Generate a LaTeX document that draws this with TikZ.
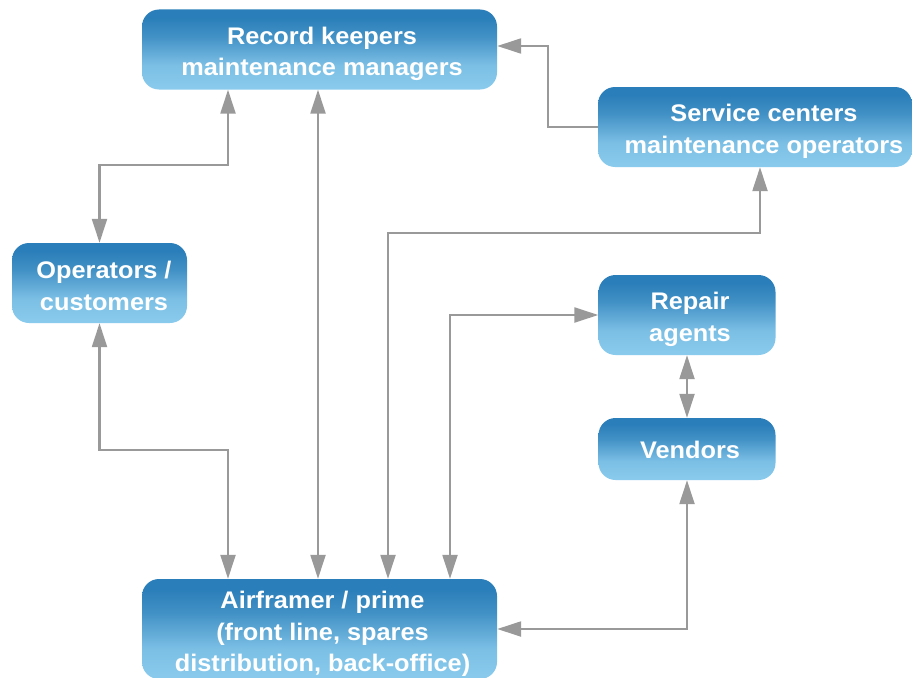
\documentclass[tikz,border=0pt]{standalone}
\usepackage{fontspec}
\setmainfont[FakeStretch=1.055]{Liberation Sans}
\usetikzlibrary{arrows.meta}
\definecolor{bdark}{RGB}{42,126,185}
\definecolor{blight}{RGB}{138,203,237}
\definecolor{lgray}{RGB}{153,153,153}
\pgfdeclareverticalshading{boxshade}{100bp}{color(0bp)=(blight); color(25bp)=(blight); color(40bp)=(blight!85!bdark); color(58bp)=(bdark!75!blight); color(70bp)=(bdark); color(100bp)=(bdark)}
\begin{document}
\begin{tikzpicture}[x=1pt,y=-1pt,
  lbl/.style={text=white, font=\fontsize{24}{31.5}\selectfont\bfseries, align=center, inner sep=0pt},
  box/.style={rounded corners=17pt, shading=boxshade, draw=none, inner sep=0pt},
  link/.style={draw=lgray, line width=2.2pt},
  both/.style={link, {Triangle[length=24pt,width=15pt]}-{Triangle[length=24pt,width=15pt]}},
  tip/.style={link, -{Triangle[length=24pt,width=15pt]}}]
\useasboundingbox (0,0) rectangle (912,677);
\node[box, minimum width=355pt, minimum height=80pt] (rk) at (319.5,49.5) {};
\node[box, minimum width=314pt, minimum height=80pt] (sc) at (755,127) {};
\node[box, minimum width=175pt, minimum height=80pt] (op) at (99.5,283) {};
\node[box, minimum width=177pt, minimum height=80pt] (ra) at (687,315) {};
\node[box, minimum width=177pt, minimum height=62pt] (ve) at (687,449) {};
\node[box, minimum width=355pt, minimum height=100pt] (af) at (319.5,629) {};
\node[lbl] (rkt) at (322,54) {Record keepers\\maintenance managers};
\node[lbl] (sct) at (764,131.5) {Service centers\\maintenance operators};
\node[lbl] (opt) at (104,286) {Operators /\\customers};
\node[lbl] (rat) at (690,319.5) {Repair\\agents};
\node[lbl] (vet) at (690,450) {Vendors};
\node[lbl] (aft) at (322.5,634) {Airframer / prime\\(front line, spares\\distribution, back-office)};
\draw[both] (228,0 |- rk.south) |- (op.north |- 0,165) -- (op.north);
\draw[both] (318,0 |- rk.south) -- (318,0 |- af.north);
\draw[tip] (sc.west) -| (548,46) -- (rk.east |- 0,46);
\draw[both] (760,0 |- sc.south) |- (388,233) -- (388,0 |- af.north);
\draw[both] (ra.west) -| (450,0 |- af.north);
\draw[both] (ra.south) -- (ve.north);
\draw[both] (ve.south) |- (af.east);
\draw[both] (op.south) |- (228,450) -- (228,0 |- af.north);
\end{tikzpicture}
\end{document}
